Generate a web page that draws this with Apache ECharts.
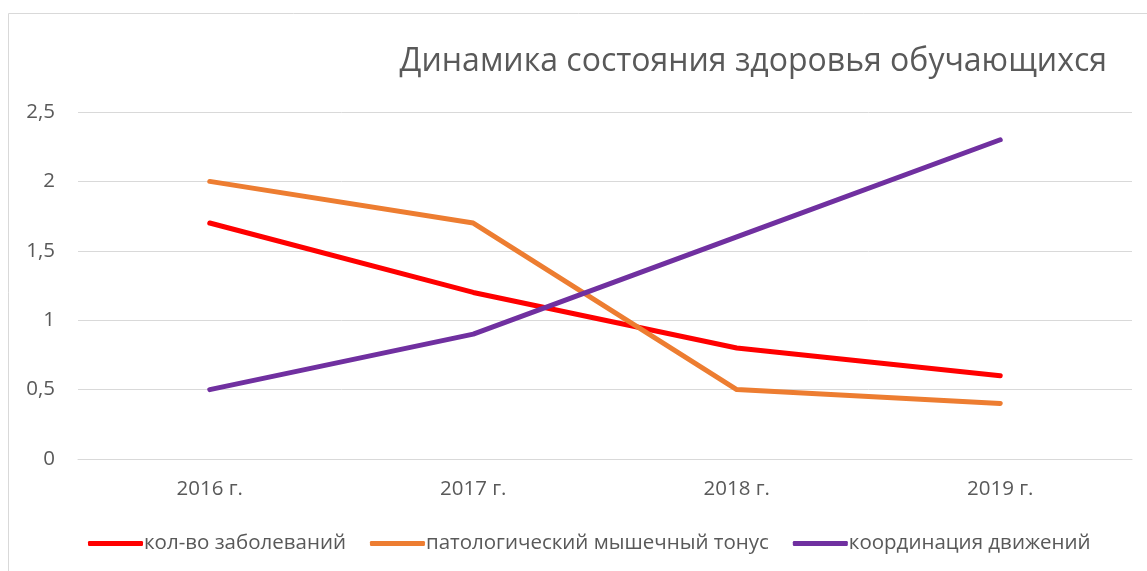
<!DOCTYPE html>
<html>
<head>
<meta charset="utf-8">
<script src="https://cdn.jsdelivr.net/npm/echarts@6/dist/echarts.min.js"></script>
<style>
  html, body { margin: 0; padding: 0; background: #fff; }
  #chart { width: 1147px; height: 571px; }
</style>
</head>
<body>
<div id="chart"></div>
<script>
var years = ['2016 г.', '2017 г.', '2018 г.', '2019 г.']
var diseases = [1.7, 1.2, 0.8, 0.6]       // кол-во заболеваний
var muscleTone = [2.0, 1.7, 0.5, 0.4]     // патологический мышечный тонус
var coordination = [0.5, 0.9, 1.6, 2.3]   // координация движений

var font = '"Open Sans", "Noto Sans", sans-serif'
var textColor = '#595959'

var myChart = echarts.init(document.getElementById('chart'))

function lineSeries(name, data, color) {
  return {
    name: name,
    type: 'line',
    data: data,
    symbol: 'none',
    lineStyle: { color: color, width: 5, cap: 'round', join: 'round' },
    itemStyle: { color: color }
  }
}

var option = {
  animation: false,
  textStyle: { fontFamily: font },
  graphic: [{
    type: 'rect',
    shape: { x: 8.5, y: 13.5, width: 1200, height: 700 },
    style: { fill: 'none', stroke: '#d9d9d9', lineWidth: 1 },
    silent: true
  }],
  title: {
    text: 'Динамика состояния здоровья обучающихся',
    right: 35,
    top: 41,
    textStyle: { fontFamily: font, fontSize: 32, fontWeight: 'normal', color: textColor }
  },
  grid: { left: 78, right: 15, top: 112, bottom: 112, containLabel: false },
  legend: {
    bottom: 12,
    left: 83,
    icon: 'roundRect',
    itemWidth: 55,
    itemHeight: 5,
    itemGap: 24,
    textStyle: { fontFamily: font, fontSize: 20.5, color: textColor, padding: [0, 0, 0, -4] },
    data: ['кол-во заболеваний', 'патологический мышечный тонус', 'координация движений']
  },
  xAxis: {
    type: 'category',
    data: years,
    boundaryGap: true,
    axisLine: { show: true, lineStyle: { color: '#d9d9d9' } },
    axisTick: { show: false },
    axisLabel: { fontFamily: font, fontSize: 20.5, color: textColor, margin: 20 }
  },
  yAxis: {
    type: 'value',
    min: 0,
    max: 2.5,
    interval: 0.5,
    axisLine: { show: false },
    axisTick: { show: false },
    splitLine: { lineStyle: { color: '#d9d9d9', width: 1 } },
    axisLabel: {
      fontFamily: font, fontSize: 20.5, color: textColor, margin: 23,
      formatter: function (v) { return String(v).replace('.', ',') }
    }
  },
  series: [
    lineSeries('кол-во заболеваний', diseases, '#ff0000'),
    lineSeries('патологический мышечный тонус', muscleTone, '#ed7d31'),
    lineSeries('координация движений', coordination, '#7030a0')
  ]
}
myChart.setOption(option)
</script>
</body>
</html>
